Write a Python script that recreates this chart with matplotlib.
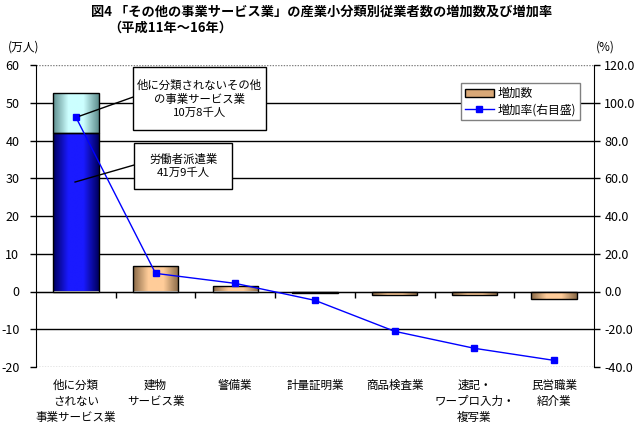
import numpy as np
import matplotlib
matplotlib.use("Agg")
import matplotlib.pyplot as plt
from matplotlib.colors import LinearSegmentedColormap
from matplotlib.patches import Patch, Rectangle
from matplotlib.lines import Line2D
from matplotlib.transforms import blended_transform_factory

plt.rcParams['font.family'] = ['Noto Sans CJK JP', 'DejaVu Sans']

categories = ['他に分類\nされない\n事業サービス業', '建物\nサービス業', '警備業', '計量証明業',
              '商品検査業', '速記・\nワープロ入力・\n複写業', '民営職業\n紹介業']
increase = [52.7, 6.7, 1.4, -0.3, -0.8, -1.0, -1.9]   # 万人
haken = 41.9                                          # 労働者派遣業 part of first bar
rate = [92.4, 9.6, 4.3, -4.7, -21.1, -30.1, -36.5]    # %
left_ticks = [-20, -10, 0, 10, 20, 30, 40, 50, 60]
right_ticks = [-40, -20, 0, 20, 40, 60, 80, 100, 120]


def gradient_fill(ax, patch, c_edge, c_mid):
    x0 = patch.get_x()
    x1 = x0 + patch.get_width()
    y0 = patch.get_y()
    y1 = y0 + patch.get_height()
    cmap = LinearSegmentedColormap.from_list('g', [c_edge, c_mid, c_mid, c_edge])
    grad = np.linspace(0, 1, 64).reshape(1, -1)
    im = ax.imshow(grad, cmap=cmap, extent=[x0, x1, min(y0, y1), max(y0, y1)],
                   aspect='auto', zorder=2, interpolation='bilinear')
    im.set_clip_path(patch)


fig = plt.figure(figsize=(6.38, 4.26), dpi=100)
ax = fig.add_axes([36/638, 59/426, 558/638, 302/426])
ax2 = ax.twinx()

x = np.arange(len(categories))
w = 0.57
b_low = ax.bar(x[0], haken, w, facecolor='none', edgecolor='black', lw=1, zorder=3)
b_up = ax.bar(x[0], increase[0] - haken, w, bottom=haken, facecolor='none',
              edgecolor='black', lw=1, zorder=3)
b_rest = ax.bar(x[1:], increase[1:], w, facecolor='none', edgecolor='black', lw=1, zorder=3)
gradient_fill(ax, b_low[0], '#000060', '#1a1aff')
gradient_fill(ax, b_up[0], '#5f8f8f', '#ccffff')
for p in b_rest:
    gradient_fill(ax, p, '#8a6a48', '#ffcc99')

ax.set_xlim(-0.5, len(categories) - 0.5)
ax.set_ylim(-20, 60)
ax.set_yticks(left_ticks)
ax.set_yticklabels([str(v) for v in left_ticks])
for v in left_ticks[1:-1]:
    ax.axhline(v, color='black', lw=1, zorder=1)
ax.axhline(60, color='#808080', lw=1, ls=(0, (1, 1)), zorder=1)
ax.axhline(-20, color='#808080', lw=1, ls=(0, (1, 1)), zorder=1)
ax.spines['top'].set_visible(False)
ax.spines['right'].set_visible(False)
ax.spines['bottom'].set_position(('data', 0))
ax.spines['bottom'].set_zorder(4)
ax.set_xticks(x[:-1] + 0.5)
ax.set_xticklabels([])
ax.tick_params(axis='x', direction='out', length=4, width=1)
ax.tick_params(axis='y', direction='out', length=4, width=1, labelsize=9, pad=8)

trans = blended_transform_factory(ax.transData, ax.transAxes)
for xi, lab in zip(x, categories):
    ax.text(xi, -0.04, lab, transform=trans, ha='center', va='top', fontsize=8.3,
            linespacing=1.3)

ax2.plot(x, rate, color='#0000ff', lw=1, marker='s', markersize=5, zorder=5)
ax2.set_ylim(-40, 120)
ax2.set_yticks(right_ticks)
ax2.set_yticklabels(['%.1f' % v for v in right_ticks])
ax2.tick_params(axis='y', direction='out', length=4, width=1, labelsize=9)
for s in ['top', 'left', 'bottom']:
    ax2.spines[s].set_visible(False)

# callouts
ax2.add_patch(Rectangle((0.717, 42.8 * 2), 1.668, 16.7 * 2, facecolor='white',
                        edgecolor='black', lw=1, zorder=6))
ax2.text(1.55, 51.1 * 2, '他に分類されないその他\nの事業サービス業\n10万8千人', ha='center',
         va='center', fontsize=8.2, linespacing=1.35, zorder=7)
ax2.plot([0.052, 0.717], [46.5 * 2, 51.5 * 2], color='black', lw=1, zorder=6)
ax2.add_patch(Rectangle((0.73, 27.2 * 2), 1.23, 12.1 * 2, facecolor='white',
                        edgecolor='black', lw=1, zorder=6))
ax2.text(1.345, 33.3 * 2, '労働者派遣業\n41万9千人', ha='center', va='center', fontsize=8.2,
         linespacing=1.35, zorder=7)
ax2.plot([-0.01, 0.73], [29.0 * 2, 33.5 * 2], color='black', lw=1, zorder=6)

handles = [Patch(facecolor='#d9a877', edgecolor='black', lw=1),
           Line2D([], [], color='#0000ff', lw=1, marker='s', markersize=5)]
leg = ax2.legend(handles, ['増加数', '増加率(右目盛)'], loc='upper left',
                 bbox_to_anchor=(0.762, 0.94), fontsize=8.5, fancybox=False,
                 framealpha=1, edgecolor='#808080', borderpad=0.35, labelspacing=0.25,
                 handlelength=2.4, handletextpad=0.3, borderaxespad=0)
leg.get_frame().set_linewidth(1)

fig.text(322/638, 1 - 12/426, '図4 「その他の事業サービス業」の産業小分類別従業者数の増加数及び増加率',
         ha='center', va='center', fontsize=9.5, fontweight='bold')
fig.text(108/638, 1 - 28/426, '（平成11年～16年）', ha='left', va='center', fontsize=9.5,
         fontweight='bold')
fig.text(8/638, 1 - 47/426, '(万人)', ha='left', va='center', fontsize=8.5)
fig.text(596/638, 1 - 47/426, '(%)', ha='left', va='center', fontsize=8.5)

fig.savefig('out.png', dpi=100)
